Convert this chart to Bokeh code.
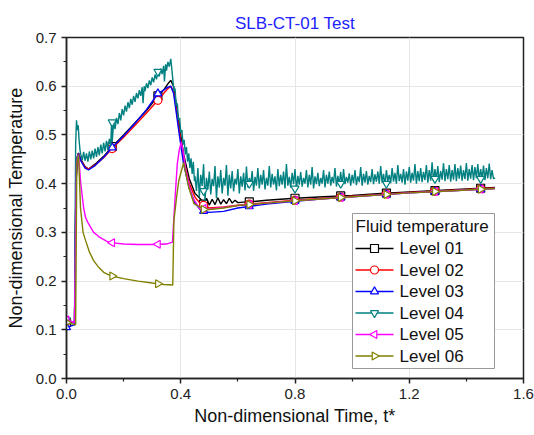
import numpy as np
from bokeh.plotting import figure
from bokeh.models import FixedTicker, NumeralTickFormatter, Range1d
from bokeh.core.properties import value
from bokeh.embed import file_html
from bokeh.resources import INLINE

# ---------------- data ----------------
title_text = "SLB-CT-01 Test"
legend_title = "Fluid temperature"
x_ticks = [0.0, 0.4, 0.8, 1.2, 1.6]
x_minor = [0.2, 0.6, 1.0, 1.4]
y_ticks = [0.0, 0.1, 0.2, 0.3, 0.4, 0.5, 0.6, 0.7]
y_minor = [0.05, 0.15, 0.25, 0.35, 0.45, 0.55, 0.65]
marker_t = [0.0, 0.16, 0.32, 0.48, 0.64, 0.80, 0.96, 1.12, 1.29, 1.45]

# Level 01 (black)
l1_t = [0, 0.028, 0.033, 0.038, 0.042, 0.05, 0.065, 0.077, 0.10, 0.13, 0.16, 0.20, 0.24, 0.28, 0.32,
        0.34, 0.355, 0.365, 0.375, 0.395, 0.41, 0.43, 0.45, 0.47, 0.48, 0.49, 0.50, 0.51, 0.52, 0.53,
        0.54, 0.55, 0.56, 0.57, 0.58, 0.59, 0.60, 0.62, 0.65, 0.70, 0.80, 0.90, 1.00, 1.10, 1.20,
        1.30, 1.40, 1.50]
l1_y = [0.115, 0.115, 0.40, 0.455, 0.463, 0.45, 0.435, 0.43, 0.44, 0.456, 0.476, 0.50, 0.525, 0.55, 0.58,
        0.592, 0.605, 0.612, 0.60, 0.52, 0.46, 0.41, 0.38, 0.368, 0.358, 0.370, 0.356, 0.368, 0.357, 0.371,
        0.358, 0.367, 0.359, 0.370, 0.360, 0.366, 0.361, 0.362, 0.363, 0.366, 0.370, 0.373, 0.376, 0.380, 0.383,
        0.386, 0.389, 0.392]

# Level 02 (red)
l2_t = [0, 0.028, 0.033, 0.038, 0.042, 0.05, 0.065, 0.077, 0.10, 0.13, 0.16, 0.20, 0.24, 0.28, 0.32,
        0.34, 0.355, 0.365, 0.375, 0.395, 0.41, 0.43, 0.45, 0.47, 0.50, 0.55, 0.60, 0.70, 0.80, 0.90,
        1.00, 1.10, 1.20, 1.30, 1.40, 1.50]
l2_y = [0.118, 0.115, 0.40, 0.455, 0.462, 0.448, 0.434, 0.43, 0.438, 0.453, 0.472, 0.495, 0.52, 0.545, 0.571,
        0.585, 0.595, 0.600, 0.59, 0.51, 0.45, 0.40, 0.372, 0.358, 0.350, 0.352, 0.356, 0.361, 0.366, 0.370,
        0.374, 0.378, 0.382, 0.385, 0.388, 0.391]

# Level 03 (blue)
l3_t = [0, 0.028, 0.033, 0.038, 0.042, 0.05, 0.065, 0.077, 0.10, 0.13, 0.16, 0.20, 0.24, 0.28, 0.32,
        0.34, 0.355, 0.365, 0.375, 0.395, 0.41, 0.43, 0.45, 0.47, 0.50, 0.55, 0.60, 0.70, 0.80, 0.90,
        1.00, 1.10, 1.20, 1.30, 1.40, 1.50]
l3_y = [0.105, 0.11, 0.40, 0.455, 0.462, 0.447, 0.432, 0.428, 0.437, 0.454, 0.474, 0.498, 0.524, 0.552, 0.585,
        0.592, 0.598, 0.600, 0.585, 0.50, 0.44, 0.39, 0.360, 0.345, 0.341, 0.343, 0.350, 0.358, 0.364, 0.369,
        0.373, 0.377, 0.381, 0.384, 0.387, 0.390]

# Level 04 (teal) - noisy trace
l4_t = [0, 0.028, 0.032, 0.035, 0.038, 0.041, 0.044, 0.047,
        0.050, 0.055, 0.060, 0.065, 0.070, 0.075, 0.080, 0.085, 0.090, 0.095,
        0.100, 0.105, 0.110, 0.115, 0.120, 0.125, 0.130, 0.135, 0.140, 0.145,
        0.150, 0.155, 0.158, 0.160, 0.165, 0.170, 0.175, 0.180, 0.185, 0.190, 0.195,
        0.200, 0.205, 0.210, 0.215, 0.220, 0.225, 0.230, 0.235, 0.240, 0.245,
        0.250, 0.255, 0.260, 0.265, 0.268, 0.272, 0.275, 0.280, 0.285, 0.290, 0.295,
        0.300, 0.305, 0.310, 0.315, 0.320, 0.325, 0.330, 0.335, 0.340, 0.343, 0.347,
        0.350, 0.355, 0.360, 0.365, 0.368,
        0.372, 0.376, 0.380, 0.384, 0.388, 0.392, 0.396, 0.400, 0.404, 0.408,
        0.412, 0.416, 0.420, 0.424, 0.428, 0.432, 0.436, 0.440, 0.444, 0.448]
l4_y = [0.12, 0.115, 0.48, 0.53, 0.51, 0.52, 0.49, 0.47,
        0.460, 0.448, 0.465, 0.447, 0.462, 0.445, 0.466, 0.450, 0.468, 0.452,
        0.472, 0.455, 0.475, 0.458, 0.480, 0.462, 0.484, 0.466, 0.488, 0.470,
        0.492, 0.478, 0.530, 0.485, 0.525, 0.512, 0.535, 0.522, 0.545, 0.530, 0.553,
        0.540, 0.560, 0.548, 0.567, 0.555, 0.574, 0.562, 0.580, 0.568, 0.586,
        0.575, 0.592, 0.580, 0.598, 0.565, 0.600, 0.590, 0.606, 0.596, 0.612, 0.602,
        0.618, 0.608, 0.624, 0.614, 0.630, 0.620, 0.636, 0.625, 0.642, 0.610, 0.645,
        0.632, 0.650, 0.640, 0.656, 0.640,
        0.615, 0.590, 0.595, 0.560, 0.565, 0.530, 0.535, 0.505, 0.510, 0.480,
        0.490, 0.460, 0.475, 0.445, 0.462, 0.432, 0.452, 0.420, 0.445, 0.405]
# teal noise from t = 0.450 to 1.500, every 0.005
l4_noise = [
    0.415, 0.385, 0.432, 0.372, 0.418, 0.395, 0.440, 0.365, 0.412, 0.388,
    0.425, 0.378, 0.410, 0.395, 0.436, 0.370, 0.415, 0.392, 0.428, 0.380,
    0.412, 0.396, 0.438, 0.375, 0.418, 0.390, 0.426, 0.384, 0.410, 0.398,
    0.430, 0.380, 0.415, 0.394, 0.422, 0.386, 0.435, 0.392, 0.412, 0.398,
    0.426, 0.385, 0.414, 0.396, 0.432, 0.390, 0.418, 0.398, 0.428, 0.388,
    0.412, 0.396, 0.436, 0.392, 0.420, 0.398, 0.415, 0.386, 0.430, 0.395,
    0.418, 0.398, 0.425, 0.390, 0.440, 0.396, 0.414, 0.392, 0.422, 0.399,
    0.430, 0.388, 0.416, 0.398, 0.424, 0.394, 0.412, 0.400, 0.428, 0.392,
    0.418, 0.398, 0.434, 0.390, 0.415, 0.399, 0.422, 0.395, 0.412, 0.400,
    0.428, 0.392, 0.418, 0.400, 0.425, 0.396, 0.414, 0.401, 0.432, 0.394,
    0.416, 0.400, 0.424, 0.395, 0.430, 0.399, 0.414, 0.402, 0.421, 0.396,
    0.418, 0.401, 0.428, 0.397, 0.415, 0.403, 0.434, 0.396, 0.420, 0.402,
    0.426, 0.398, 0.416, 0.403, 0.430, 0.399, 0.419, 0.404, 0.425, 0.400,
    0.436, 0.402, 0.420, 0.397, 0.428, 0.405, 0.418, 0.401, 0.432, 0.404,
    0.422, 0.400, 0.438, 0.405, 0.420, 0.402, 0.430, 0.398, 0.425, 0.406,
    0.434, 0.402, 0.422, 0.406, 0.440, 0.400, 0.426, 0.405, 0.432, 0.403,
    0.424, 0.407, 0.438, 0.402, 0.428, 0.406, 0.444, 0.404, 0.430, 0.408,
    0.436, 0.403, 0.426, 0.408, 0.442, 0.405, 0.430, 0.409, 0.438, 0.404,
    0.428, 0.408, 0.440, 0.405, 0.432, 0.410, 0.437, 0.406, 0.428, 0.409,
    0.442, 0.406, 0.430, 0.410, 0.438, 0.407, 0.434, 0.411, 0.440, 0.408,
    0.430, 0.410, 0.437, 0.407, 0.432, 0.411, 0.441, 0.409, 0.428, 0.410,
    0.412]
l4_noise_t = list(np.round(np.linspace(0.45, 1.50, len(l4_noise)), 4))
l4_marker_y = [0.12, 0.526, 0.63, 0.385, 0.40, 0.39, 0.40, 0.40, 0.41, 0.41]

# Level 05 (magenta)
l5_t = [0, 0.028, 0.035, 0.042, 0.05, 0.06, 0.067, 0.075, 0.095, 0.108, 0.115, 0.14, 0.154, 0.20, 0.25,
        0.30, 0.35, 0.371, 0.38, 0.388, 0.395, 0.402, 0.41, 0.418, 0.43, 0.441, 0.463, 0.48, 0.50, 0.55,
        0.60, 0.70, 0.80, 0.90, 1.00, 1.10, 1.20, 1.30, 1.40, 1.50]
l5_y = [0.12, 0.115, 0.44, 0.46, 0.40, 0.35, 0.33, 0.32, 0.30, 0.294, 0.29, 0.282, 0.279, 0.276, 0.275,
        0.275, 0.276, 0.280, 0.37, 0.441, 0.47, 0.485, 0.46, 0.427, 0.395, 0.372, 0.352, 0.349, 0.348, 0.351,
        0.355, 0.360, 0.365, 0.369, 0.373, 0.377, 0.381, 0.384, 0.387, 0.390]

# Level 06 (olive)
l6_t = [0, 0.032, 0.036, 0.042, 0.046, 0.049, 0.058, 0.067, 0.08, 0.095, 0.11, 0.13, 0.154, 0.20, 0.25,
        0.30, 0.34, 0.372, 0.376, 0.385, 0.393, 0.41, 0.428, 0.446, 0.48, 0.50, 0.55, 0.60, 0.70, 0.80,
        0.90, 1.00, 1.10, 1.20, 1.30, 1.40, 1.50]
l6_y = [0.115, 0.11, 0.44, 0.46, 0.40, 0.35, 0.30, 0.283, 0.26, 0.242, 0.23, 0.218, 0.211, 0.205, 0.200,
        0.196, 0.193, 0.192, 0.324, 0.37, 0.406, 0.443, 0.392, 0.359, 0.347, 0.347, 0.350, 0.355, 0.360, 0.365,
        0.369, 0.373, 0.377, 0.381, 0.384, 0.387, 0.390]

names = ["Level 01", "Level 02", "Level 03", "Level 04", "Level 05", "Level 06"]
colors = ["#000000", "#ff0000", "#0000ff", "#008080", "#ff00ff", "#808000"]
markers = ["square", "circle", "triangle", "inverted_triangle", "triangle", "triangle"]
angles = [0.0, 0.0, 0.0, 0.0, np.pi / 2, -np.pi / 2]

FONT = "Liberation Sans"

# ---------------- figure ----------------
W, H = 534, 435
ML, MR, MT, MB = 66, 11, 37, 57
FW, FH = W - ML - MR, H - MT - MB   # frame size in px

p = figure(width=W, height=H, output_backend="svg", toolbar_location=None,
           x_range=(0.0, 1.6), y_range=(0.0, 0.7),
           min_border_left=ML, min_border_right=MR, min_border_top=MT, min_border_bottom=MB)
# pixel-unit helper ranges for the legend box
p.extra_x_ranges = {"px": Range1d(0, FW)}
p.extra_y_ranges = {"px": Range1d(0, FH)}

p.title.text = title_text
p.title.align = "center"
p.title.text_color = "#2222ff"
p.title.text_font = FONT
p.title.text_font_size = "17px"
p.title.text_font_style = "normal"
p.title.standoff = 9
p.outline_line_color = "#222222"
p.outline_line_width = 1.5
p.background_fill_color = "white"

series_t = [l1_t, l2_t, l3_t, l4_t + l4_noise_t, l5_t, l6_t]
series_y = [l1_y, l2_y, l3_y, l4_y + l4_noise, l5_y, l6_y]

for i in range(6):
    t = np.array(series_t[i])
    y = np.array(series_y[i])
    p.line(t, y, line_color=colors[i], line_width=1.4)
    my = np.array(l4_marker_y) if i == 3 else np.interp(marker_t, t, y)
    p.scatter(marker_t, my, marker=markers[i], size=8, angle=angles[i],
              line_color=colors[i], fill_color="white", line_width=1.2)

# ---------------- legend (drawn in pixel units inside the frame) ----------------
LX0, LX1, LY0, LY1 = 286, 428, 10, 165
row_y = [130, 108.5, 87, 65.5, 44, 22.5]
p.quad(left=[LX0], right=[LX1], bottom=[LY0], top=[LY1], fill_color="white",
       line_color="#999999", line_width=1, x_range_name="px", y_range_name="px")
p.text(x=[LX0 + 3], y=[152], text=[legend_title], text_font=value(FONT), text_font_size="17px",
       text_color="#111111", text_baseline="middle", text_align="left",
       x_range_name="px", y_range_name="px")
for i in range(6):
    p.segment(x0=[LX0 + 3], x1=[LX0 + 41], y0=[row_y[i]], y1=[row_y[i]], line_color=colors[i],
              line_width=1.4, x_range_name="px", y_range_name="px")
    p.scatter(x=[LX0 + 22], y=[row_y[i]], marker=markers[i], size=8, angle=angles[i],
              line_color=colors[i], fill_color="white", line_width=1.2,
              x_range_name="px", y_range_name="px")
    p.text(x=[LX0 + 47], y=[row_y[i]], text=[names[i]], text_font=value(FONT), text_font_size="17px",
           text_color="#111111", text_baseline="middle", text_align="left",
           x_range_name="px", y_range_name="px")

for ax in (p.xaxis[0], p.yaxis[0]):
    ax.axis_line_width = 1.5
    ax.axis_line_color = "#222222"
    ax.major_tick_out = 5
    ax.major_tick_in = 0
    ax.minor_tick_out = 3
    ax.minor_tick_in = 0
    ax.major_tick_line_width = 1.5
    ax.minor_tick_line_width = 1.2
    ax.major_tick_line_color = "#222222"
    ax.minor_tick_line_color = "#222222"
    ax.major_label_text_font = FONT
    ax.major_label_text_font_size = "15px"
    ax.major_label_text_color = "#222222"
    ax.axis_label_text_font = FONT
    ax.axis_label_text_font_size = "18px"
    ax.axis_label_text_font_style = "normal"
    ax.axis_label_text_color = "#111111"
    ax.formatter = NumeralTickFormatter(format="0.0")
    ax.major_label_standoff = 5

p.xaxis[0].ticker = FixedTicker(ticks=x_ticks, minor_ticks=x_minor)
p.yaxis[0].ticker = FixedTicker(ticks=y_ticks, minor_ticks=y_minor)
p.xaxis[0].axis_label = "Non-dimensional Time, t*"
p.yaxis[0].axis_label = "Non-dimensional Temperature"
p.xaxis[0].axis_label_standoff = 4
p.yaxis[0].axis_label_standoff = 7

p.xgrid.grid_line_color = "#e6e6e6"
p.ygrid.grid_line_color = "#e6e6e6"
p.xgrid.ticker = FixedTicker(ticks=x_ticks)
p.ygrid.ticker = FixedTicker(ticks=y_ticks)

open("out.html", "w").write(file_html(p, INLINE))
